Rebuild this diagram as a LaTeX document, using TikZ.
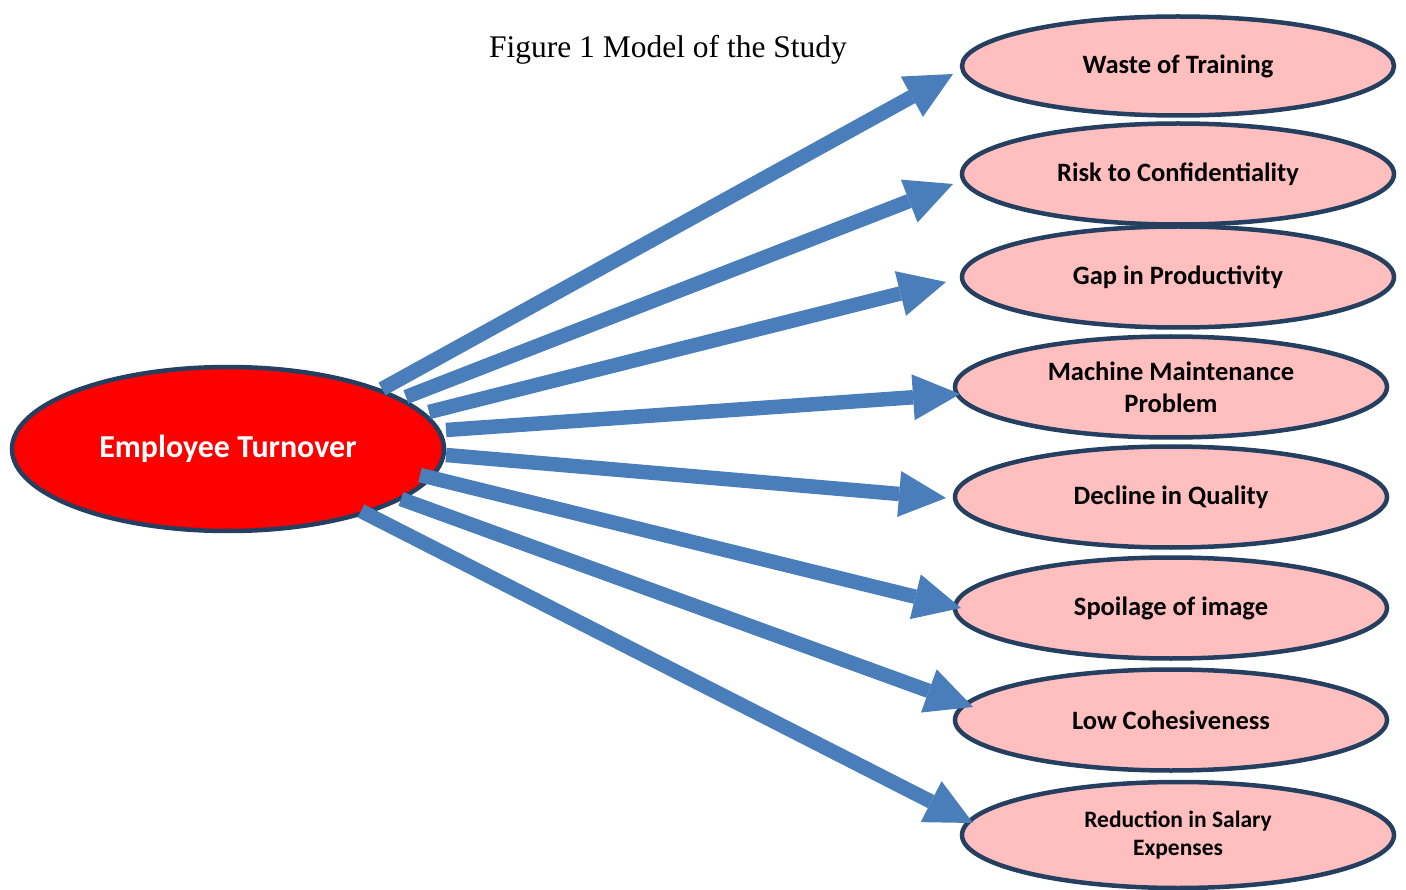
\documentclass[tikz,border=0pt]{standalone}
\usepackage{fontspec}
\setmainfont{Liberation Serif}
\newfontfamily\calfont{Carlito}
\usetikzlibrary{shapes.geometric,arrows.meta}
\definecolor{arrowblue}{HTML}{4A7EBB}
\definecolor{bordblue}{HTML}{243F60}
\definecolor{pinkfill}{HTML}{FFBFBF}
\definecolor{causered}{HTML}{FF0000}
\begin{document}
\begin{tikzpicture}[x=1pt,y=-1pt,
  effect/.style={ellipse, draw=bordblue, line width=4.5pt, fill=pinkfill,
    minimum width=432pt, minimum height=101pt, inner sep=0pt, align=center,
    font=\calfont\bfseries\fontsize{26.5}{32}\selectfont},
  smalleffect/.style={effect, font=\calfont\bfseries\fontsize{23.5}{28}\selectfont},
  cause/.style={ellipse, draw=bordblue, line width=4.5pt, fill=causered,
    minimum width=432pt, minimum height=164pt, inner sep=0pt, text=white,
    font=\calfont\bfseries\fontsize{32}{36}\selectfont},
  link/.style={draw=arrowblue, line width=14.5pt,
    -{Triangle[length=47pt,width=46pt,line width=0pt]}},
  titletext/.style={font=\fontsize{31.5}{36}\selectfont, inner sep=0pt}]
\useasboundingbox (0,0) rectangle (1406,890);
\node[titletext] (title) at (668,50) {Figure 1 Model of the Study};
\node[cause] (et) at (228,449) {Employee Turnover};
\node[effect, minimum height=99pt] (e1) at (1178,66) {Waste of Training};
\node[effect] (e2) at (1178,174) {Risk to Confidentiality};
\node[effect] (e3) at (1178,277) {Gap in Productivity};
\node[effect] (e4) at (1171,387) {Machine Maintenance\\Problem};
\node[effect] (e5) at (1171,497) {Decline in Quality};
\node[effect] (e6) at (1171,608) {Spoilage of image};
\node[effect] (e7) at (1171,720) {Low Cohesiveness};
\node[smalleffect, minimum height=106pt] (e8) at (1178,835) {Reduction in Salary\\Expenses};
\coordinate (s1) at (382,389); \coordinate (t1) at (953,74);
\coordinate (s2) at (406,397); \coordinate (t2) at (953,184);
\coordinate (s3) at (429,412); \coordinate (t3) at (946,282);
\coordinate (s4) at (446,430); \coordinate (t4) at (960,394);
\coordinate (s5) at (446,455); \coordinate (t5) at (946,498);
\coordinate (s6) at (420,475); \coordinate (t6) at (961,608);
\coordinate (s7) at (401,499); \coordinate (t7) at (973,707);
\coordinate (s8) at (361,511); \coordinate (t8) at (973,823);
\foreach \i in {1,...,8} { \draw[link] (s\i) -- (t\i); }
\end{tikzpicture}
\end{document}
